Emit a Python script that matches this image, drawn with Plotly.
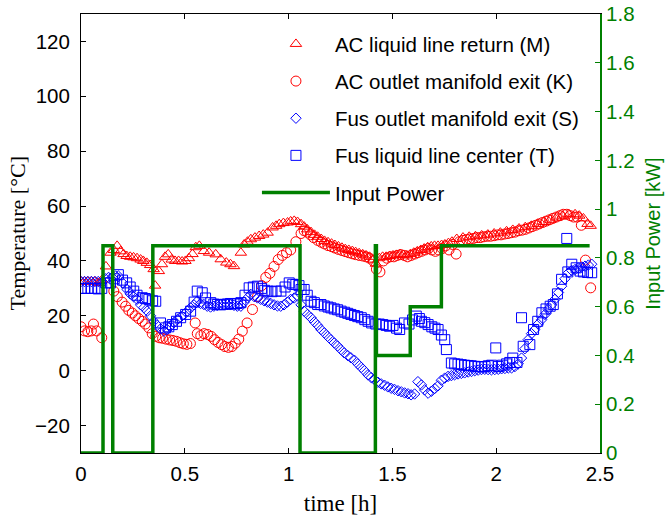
import plotly.graph_objects as go

# ---------------- data ----------------
m_t = [0.000, 0.017, 0.033, 0.050, 0.067, 0.083, 0.100, 0.120, 0.142, 0.158, 0.174, 0.190, 0.205, 0.220,
       0.237, 0.253, 0.270, 0.287, 0.300, 0.317, 0.333, 0.350, 0.357, 0.375, 0.390, 0.405, 0.420, 0.437,
       0.453, 0.470, 0.487, 0.503, 0.520, 0.537, 0.553, 0.570, 0.592, 0.617, 0.649, 0.673, 0.700, 0.720,
       0.737, 0.770, 0.786, 0.802, 0.818, 0.838, 0.858, 0.878, 0.899, 0.923, 0.940, 0.955, 0.975, 0.995,
       1.010, 1.027, 1.043, 1.060, 1.075, 1.090, 1.108, 1.125, 1.140, 1.157, 1.173, 1.190, 1.207, 1.223,
       1.240, 1.257, 1.273, 1.290, 1.307, 1.323, 1.340, 1.357, 1.373, 1.390, 1.407, 1.420, 1.437, 1.453,
       1.470, 1.487, 1.503, 1.520, 1.537, 1.553, 1.570, 1.587, 1.603, 1.620, 1.637, 1.653, 1.670, 1.687,
       1.703, 1.720, 1.737, 1.753, 1.770, 1.787, 1.810, 1.840, 1.870, 1.900, 1.930, 1.960, 1.990, 2.020,
       2.050, 2.080, 2.110, 2.140, 2.170, 2.200, 2.230, 2.260, 2.290, 2.320, 2.350, 2.380, 2.400, 2.420,
       2.440, 2.455]
m_temp = [32.5, 32.5, 32.5, 32.5, 32.5, 32.0, 33.0, 38.0, 43.0, 44.0, 45.5, 43.5, 42.5, 41.8,
          41.5, 41.3, 41.0, 40.5, 40.0, 39.3, 38.5, 37.0, 31.0, 36.3, 38.8, 41.5, 42.4, 40.5,
          40.0, 40.0, 39.8, 40.0, 41.0, 42.5, 45.0, 45.5, 43.6, 43.0, 42.4, 40.6, 39.4, 38.8,
          38.1, 43.0, 46.0, 47.0, 47.9, 48.5, 49.1, 49.6, 50.3, 52.2, 52.8, 53.4, 53.8, 54.0,
          54.4, 54.6, 54.2, 53.4, 52.5, 51.5, 50.5, 49.5, 48.8, 48.0, 47.3, 46.8, 46.3, 45.8,
          45.3, 44.8, 44.3, 44.0, 43.6, 43.2, 42.8, 42.4, 42.0, 41.5, 40.5, 39.0, 41.0, 41.5,
          41.5, 41.8, 42.0, 42.2, 42.5, 42.2, 42.0, 42.5, 43.0, 43.5, 44.0, 44.5, 45.0, 45.3,
          45.5, 45.5, 45.8, 46.0, 46.5, 47.0, 48.0, 48.5, 48.8, 49.0, 49.3, 49.6, 50.0, 50.3,
          50.8, 51.3, 51.8, 52.3, 52.8, 53.5, 54.2, 55.0, 55.8, 56.5, 57.0, 57.0, 56.5, 55.5,
          53.5, 52.8]

k_t = [0.000, 0.017, 0.033, 0.050, 0.060, 0.075, 0.100, 0.158, 0.175, 0.198, 0.215, 0.230, 0.247, 0.262,
       0.278, 0.295, 0.310, 0.327, 0.343, 0.360, 0.377, 0.393, 0.410, 0.427, 0.443, 0.460, 0.477, 0.493,
       0.510, 0.527, 0.550, 0.560, 0.577, 0.593, 0.610, 0.627, 0.643, 0.660, 0.677, 0.693, 0.710, 0.727,
       0.743, 0.760, 0.777, 0.800, 0.826, 0.850, 0.870, 0.890, 0.910, 0.930, 0.950, 0.970, 0.990, 1.010,
       1.035, 1.060, 1.075, 1.090, 1.105, 1.120, 1.140, 1.157, 1.173, 1.190, 1.207, 1.223, 1.240, 1.257,
       1.273, 1.290, 1.307, 1.323, 1.340, 1.357, 1.373, 1.390, 1.407, 1.423, 1.440, 1.457, 1.473, 1.490,
       1.507, 1.523, 1.540, 1.557, 1.573, 1.590, 1.607, 1.623, 1.640, 1.657, 1.673, 1.690, 1.707, 1.723,
       1.740, 1.757, 1.773, 1.790, 1.807, 1.823, 1.840, 1.857, 1.873, 1.890, 1.907, 1.923, 1.940, 1.957,
       1.973, 1.990, 2.007, 2.023, 2.040, 2.057, 2.073, 2.090, 2.107, 2.123, 2.140, 2.157, 2.173, 2.190,
       2.207, 2.223, 2.240, 2.257, 2.273, 2.290, 2.307, 2.323, 2.340, 2.357, 2.373, 2.390, 2.410, 2.430,
       2.455]
k_temp = [16.0, 14.5, 14.2, 14.5, 17.0, 14.5, 12.0, 29.0, 27.0, 25.0, 23.5, 22.0, 21.0, 20.0,
          19.0, 18.0, 17.0, 15.6, 13.5, 12.5, 12.0, 11.8, 11.5, 11.2, 11.0, 10.7, 10.2, 9.8,
          9.6, 9.9, 17.4, 13.5, 12.8, 13.5, 13.2, 12.5, 11.3, 10.3, 9.5, 8.8, 8.5, 8.8,
          10.0, 11.5, 14.4, 17.4, 22.3, 27.0, 31.0, 34.0, 35.5, 38.0, 40.5, 42.0, 43.0, 44.0,
          47.0, 50.0, 51.0, 50.5, 49.5, 48.5, 47.5, 46.8, 46.2, 45.6, 45.2, 44.7, 44.2, 43.8,
          43.4, 43.0, 42.6, 42.3, 42.0, 41.8, 41.5, 41.0, 40.0, 37.0, 36.0, 40.0, 41.0, 41.5,
          41.5, 42.0, 42.3, 42.0, 41.5, 42.0, 42.5, 43.0, 43.5, 44.0, 44.5, 44.0, 43.5, 44.0,
          44.5, 45.5, 44.0, 46.0, 42.5, 47.0, 47.5, 47.8, 48.0, 48.2, 48.5, 48.5, 48.8, 49.0,
          49.0, 49.2, 49.5, 49.5, 49.8, 50.0, 50.3, 50.5, 51.0, 51.2, 51.5, 52.0, 52.5, 53.0,
          53.5, 54.0, 54.5, 55.0, 55.5, 56.0, 56.5, 57.0, 57.0, 56.5, 56.0, 56.0, 53.0, 40.3,
          30.2]

s_t = [0.000, 0.017, 0.033, 0.050, 0.067, 0.083, 0.100, 0.117, 0.133, 0.150, 0.167, 0.180, 0.200, 0.222,
       0.237, 0.253, 0.270, 0.287, 0.303, 0.319, 0.335, 0.350, 0.367, 0.383, 0.400, 0.415, 0.430, 0.447,
       0.464, 0.480, 0.496, 0.512, 0.528, 0.544, 0.560, 0.576, 0.592, 0.608, 0.624, 0.640, 0.656, 0.672,
       0.688, 0.705, 0.720, 0.737, 0.753, 0.770, 0.786, 0.802, 0.818, 0.834, 0.850, 0.866, 0.882, 0.898,
       0.914, 0.930, 0.946, 0.962, 0.978, 0.994, 1.010, 1.027, 1.043, 1.060, 1.075, 1.091, 1.108, 1.124,
       1.140, 1.156, 1.172, 1.188, 1.204, 1.220, 1.236, 1.252, 1.268, 1.285, 1.300, 1.317, 1.333, 1.350,
       1.365, 1.382, 1.398, 1.414, 1.430, 1.446, 1.462, 1.478, 1.494, 1.510, 1.527, 1.543, 1.559, 1.575,
       1.590, 1.607, 1.623, 1.640, 1.655, 1.672, 1.688, 1.704, 1.720, 1.736, 1.752, 1.768, 1.784, 1.800,
       1.816, 1.832, 1.848, 1.865, 1.881, 1.897, 1.913, 1.929, 1.945, 1.961, 1.977, 1.993, 2.010, 2.026,
       2.042, 2.058, 2.074, 2.090, 2.106, 2.122, 2.138, 2.154, 2.170, 2.186, 2.202, 2.219, 2.235, 2.250,
       2.267, 2.283, 2.300, 2.315, 2.331, 2.348, 2.364, 2.380, 2.396, 2.412, 2.428, 2.444, 2.460]
s_temp = [32.5, 32.5, 32.5, 32.5, 32.5, 32.5, 32.0, 33.5, 34.0, 34.0, 34.5, 34.5, 32.0, 29.6,
          28.0, 27.0, 26.0, 24.0, 23.0, 21.7, 20.0, 18.0, 16.5, 15.2, 14.4, 15.0, 16.2, 17.5,
          18.6, 19.5, 20.5, 21.7, 22.9, 24.0, 25.3, 24.5, 24.1, 23.5, 23.2, 23.5, 23.8, 24.0,
          24.0, 24.1, 24.0, 23.8, 23.5, 23.5, 25.0, 26.5, 27.8, 27.0, 26.5, 26.0, 25.5, 25.0,
          24.5, 24.0, 23.6, 23.5, 24.0, 25.0, 26.0, 26.5, 27.2, 24.0, 21.7, 20.5, 19.3, 17.8,
          16.5, 15.0, 13.8, 12.5, 11.3, 10.1, 9.0, 7.7, 6.5, 5.5, 4.7, 3.8, 2.5, 1.2,
          0.0, -1.5, -2.5, -3.3, -4.2, -4.8, -5.3, -5.9, -6.4, -6.8, -7.3, -7.7, -8.1, -8.4,
          -8.8, -8.5, -4.0, -5.2, -7.0, -8.2, -7.5, -6.5, -5.5, -3.5, -2.7, -2.1, -1.8, -1.5,
          -1.2, -1.0, -0.8, -0.5, -0.3, 0.0, 0.2, 0.4, 0.5, 0.4, 0.3, 0.4, 0.5, 0.7,
          0.8, 1.0, 1.0, 1.5, 2.5, 4.6, 8.0, 11.3, 13.5, 15.0, 17.0, 18.6, 20.5, 22.3,
          24.0, 26.0, 28.5, 30.8, 33.5, 35.7, 36.5, 36.9, 37.4, 37.8, 38.1, 38.5, 38.8]

t_t = [0.000, 0.017, 0.033, 0.050, 0.067, 0.083, 0.100, 0.120, 0.142, 0.160, 0.180, 0.200, 0.220, 0.237,
       0.254, 0.270, 0.295, 0.310, 0.327, 0.345, 0.360, 0.383, 0.407, 0.423, 0.440, 0.460, 0.480, 0.504,
       0.528, 0.545, 0.560, 0.584, 0.600, 0.625, 0.640, 0.657, 0.673, 0.690, 0.705, 0.720, 0.737, 0.753,
       0.770, 0.790, 0.810, 0.830, 0.850, 0.870, 0.885, 0.900, 0.920, 0.940, 0.963, 0.983, 1.003, 1.020,
       1.035, 1.050, 1.060, 1.075, 1.090, 1.108, 1.124, 1.140, 1.156, 1.172, 1.190, 1.204, 1.220, 1.236,
       1.253, 1.270, 1.285, 1.300, 1.317, 1.333, 1.350, 1.367, 1.383, 1.400, 1.420, 1.437, 1.454, 1.470,
       1.486, 1.503, 1.520, 1.535, 1.558, 1.580, 1.597, 1.615, 1.630, 1.640, 1.656, 1.672, 1.690, 1.705,
       1.720, 1.736, 1.752, 1.760, 1.784, 1.800, 1.816, 1.832, 1.848, 1.865, 1.880, 1.897, 1.913, 1.930,
       1.946, 1.962, 1.978, 1.998, 2.010, 2.030, 2.050, 2.065, 2.080, 2.100, 2.122, 2.130, 2.162, 2.180,
       2.200, 2.220, 2.240, 2.260, 2.275, 2.295, 2.315, 2.340, 2.345, 2.364, 2.385, 2.404, 2.420, 2.440,
       2.460]
t_temp = [30.0, 30.0, 30.0, 30.0, 30.0, 29.8, 30.0, 32.0, 32.0, 33.5, 35.0, 33.0, 32.0, 30.5,
          29.0, 27.5, 26.6, 26.3, 26.0, 25.5, 25.3, 17.4, 15.6, 16.0, 16.8, 18.0, 19.3, 20.5,
          21.7, 25.0, 29.0, 28.4, 26.5, 24.8, 24.3, 24.1, 24.0, 24.2, 24.3, 24.5, 24.3, 24.5,
          24.8, 27.5, 30.2, 30.5, 30.8, 30.0, 29.3, 29.0, 28.8, 29.0, 29.0, 30.5, 32.0, 31.5,
          31.4, 31.0, 29.6, 29.6, 27.5, 25.3, 24.8, 24.1, 24.1, 23.6, 23.2, 22.9, 22.5, 22.2,
          21.7, 21.3, 20.9, 20.5, 20.1, 19.7, 19.3, 18.6, 18.0, 17.4, 17.0, 17.0, 16.8, 16.5,
          16.2, 16.5, 15.5, 15.0, 17.4, 17.0, 18.5, 19.9, 19.0, 18.0, 17.5, 16.8, 16.0, 15.5,
          15.0, 13.0, 11.3, 7.7, 2.8, 2.5, 2.4, 2.2, 2.0, 1.9, 1.8, 1.6, 1.5, 1.4,
          1.5, 1.8, 2.0, 8.3, 1.5, 2.0, 2.5, 3.0, 4.6, 3.0, 19.3, 8.9, 9.5, 15.0,
          18.0, 21.1, 22.5, 23.5, 24.1, 28.0, 33.3, 48.2, 36.0, 38.8, 37.5, 36.3, 36.0, 35.8,
          35.7]

p_t = [0.000, 0.106, 0.153, 0.346, 1.055, 1.418, 1.423, 1.586, 1.736, 2.450]
p_kw = [0.00, 0.85, 0.00, 0.85, 0.00, 0.85, 0.40, 0.60, 0.85, 0.85]

names = ["AC liquid line return (M)", "AC outlet manifold exit (K)",
         "Fus outlet manifold exit (S)", "Fus liquid line center (T)", "Input Power"]

x_ticks = [0, 0.5, 1, 1.5, 2, 2.5]
x_ticktext = ["0", "0.5", "1", "1.5", "2", "2.5"]
y_ticks = [-20, 0, 20, 40, 60, 80, 100, 120]
y2_ticks = [0, 0.2, 0.4, 0.6, 0.8, 1, 1.2, 1.4, 1.6, 1.8]
y2_ticktext = ["0", "0.2", "0.4", "0.6", "0.8", "1", "1.2", "1.4", "1.6", "1.8"]

RED = "rgb(255,0,0)"
BLUE = "rgb(0,0,255)"
GREEN = "rgb(0,128,0)"
SANS = "Liberation Sans, Arial, sans-serif"
SERIF = "Liberation Serif, Times New Roman, serif"

fig = go.Figure()

def mk(x, y, name, symbol, size, color, grp):
    return go.Scatter(x=x, y=y, name=name, mode="markers", legendgroup=grp,
                      marker=dict(symbol=symbol, size=size, color=color,
                                  line=dict(color=color, width=1)))

fig.add_trace(mk(m_t, m_temp, names[0], "triangle-up-open", 10, RED, "g1"))
fig.add_trace(mk(k_t, k_temp, names[1], "circle-open", 10, RED, "g2"))
fig.add_trace(mk(s_t, s_temp, names[2], "diamond-open", 8, BLUE, "g3"))
fig.add_trace(mk(t_t, t_temp, names[3], "square-open", 10, BLUE, "g4"))
fig.add_trace(go.Scatter(x=p_t, y=p_kw, name=names[4], mode="lines", legendgroup="g5",
                         yaxis="y2", line=dict(color=GREEN, width=3.5, shape="hv")))

fig.update_layout(
    width=667, height=516,
    margin=dict(l=81, r=67, t=14, b=63, autoexpand=False),
    paper_bgcolor="white", plot_bgcolor="white",
    font=dict(family=SANS, size=20, color="black"),
    showlegend=True,
    legend=dict(x=0.339, y=0.977, xanchor="left", yanchor="top",
                bgcolor="rgba(0,0,0,0)", borderwidth=0,
                font=dict(family=SANS, size=20.5, color="black"),
                tracegroupgap=7.5, itemwidth=68),
    xaxis=dict(range=[0, 2.5], tickvals=x_ticks, ticktext=x_ticktext, automargin=False,
               showgrid=False, zeroline=False, showline=True, linecolor="black", linewidth=1,
               mirror="ticks", ticks="inside", ticklen=5, tickcolor="black",
               ticklabelstandoff=2, ticklabeloverflow="allow",
               tickfont=dict(family=SANS, size=20.5, color="black"),
               title=dict(text="time [h]", font=dict(family=SERIF, size=23, color="black"), standoff=12)),
    yaxis=dict(range=[-30, 130], tickvals=y_ticks, showgrid=False, zeroline=False, automargin=False,
               showline=True, linecolor="black", linewidth=1, ticks="inside", ticklen=5,
               tickcolor="black", ticklabelstandoff=6, ticklabeloverflow="allow",
               tickfont=dict(family=SANS, size=20.5, color="black")),
    yaxis2=dict(range=[0, 1.8], tickvals=y2_ticks, ticktext=y2_ticktext, automargin=False,
                overlaying="y", side="right", showgrid=False, zeroline=False,
                showline=True, linecolor=GREEN, linewidth=2, ticks="inside", ticklen=5,
                tickcolor=GREEN, ticklabelstandoff=0, ticklabeloverflow="allow",
                tickfont=dict(family=SANS, size=20.5, color=GREEN),
                title=dict(text="Input Power [kW]", font=dict(family=SANS, size=20, color=GREEN), standoff=12)),
    annotations=[dict(text="Temperature [°C]", xref="paper", yref="paper",
                      x=-64 / 519, y=0.5, xanchor="center", yanchor="middle",
                      textangle=-90, showarrow=False,
                      font=dict(family=SERIF, size=22, color="black"))],
)

# remove the page's default 8 px body margin so the figure fills the window exactly
fig.write_html("out.html", config={"displayModeBar": False},
               post_script="document.body.style.margin='0px';")
